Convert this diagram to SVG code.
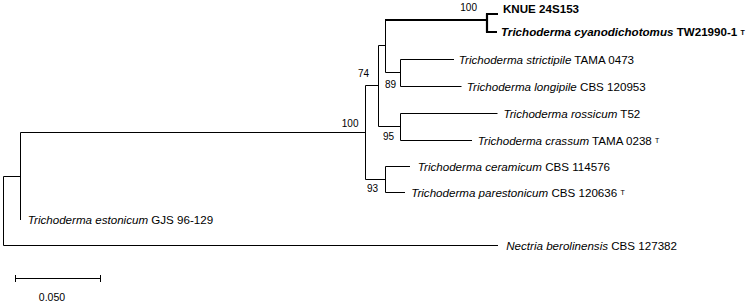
<svg xmlns="http://www.w3.org/2000/svg" width="750" height="304" viewBox="0 0 750 304">
<style>
.br{fill:none;stroke:#000;stroke-width:1}
.bold{fill:none;stroke:#000;stroke-width:2.2}
.tx{font-family:"Liberation Sans",Arial,sans-serif;font-size:11.6px;fill:#000}
.bs{font-family:"Liberation Sans",Arial,sans-serif;font-size:10px;fill:#000;text-anchor:end}
.sp{font-style:italic}
.sup{font-size:7px}
</style>
<rect width="750" height="304" fill="#fff"/>
<g id="connectors">
<path class="br" d="M3.5,176.5V245.5M3.5,176.5H20.5M3.5,245.5H498"/>
<path class="br" d="M20.5,132.5V220M20.5,132.5H365.5"/>
<path class="br" d="M365.5,85.5V179.5M365.5,85.5H378.5M365.5,179.5H385.5"/>
<path class="br" d="M378.5,45.5V126.5M378.5,45.5H385.5M378.5,126.5H400.5"/>
<path class="br" d="M385.5,20V72.5M385.5,72.5H400.5"/>
<path class="bold" d="M385,20H487M487,13.5V32.5M486,14H498M486,32H497"/>
<path class="br" d="M400.5,59.5V86.5M400.5,59.5H454M400.5,86.5H461.5"/>
<path class="br" d="M400.5,113.5V140.5M400.5,113.5H497.5M400.5,140.5H472"/>
<path class="br" d="M385.5,166.5V192.5M385.5,166.5H410M385.5,192.5H405"/>
</g>
<g id="n-knue"><text class="tx" x="503" y="12.5" font-weight="bold">KNUE 24S153</text></g>
<g id="n-cyano"><text class="tx" x="501" y="36.2" font-weight="bold"><tspan class="sp">Trichoderma cyanodichotomus</tspan> TW21990-1 <tspan class="sup" dy="-1.5">T</tspan></text></g>
<g id="n-strictipile"><text class="tx" x="458.8" y="63.6"><tspan class="sp">Trichoderma strictipile</tspan> TAMA 0473</text></g>
<g id="n-longipile"><text class="tx" x="466.8" y="90.6"><tspan class="sp">Trichoderma longipile</tspan> CBS 120953</text></g>
<g id="n-rossicum"><text class="tx" x="503.5" y="117.6"><tspan class="sp">Trichoderma rossicum</tspan> T52</text></g>
<g id="n-crassum"><text class="tx" x="477.8" y="144.6"><tspan class="sp">Trichoderma crassum</tspan> TAMA 0238 <tspan class="sup" dy="-1.5">T</tspan></text></g>
<g id="n-ceramicum"><text class="tx" x="417.8" y="170.6"><tspan class="sp">Trichoderma ceramicum</tspan> CBS 114576</text></g>
<g id="n-parestonicum"><text class="tx" x="411.2" y="196.6"><tspan class="sp">Trichoderma parestonicum</tspan> CBS 120636 <tspan class="sup" dy="-1.5">T</tspan></text></g>
<g id="n-estonicum"><text class="tx" x="27.8" y="224.1"><tspan class="sp">Trichoderma estonicum</tspan> GJS 96-129</text></g>
<g id="n-nectria"><text class="tx" x="506.2" y="249.6"><tspan class="sp">Nectria berolinensis</tspan> CBS 127382</text></g>
<g id="bootstrap">
<text class="bs" x="477" y="10.5">100</text>
<text class="bs" x="358.5" y="127">100</text>
<text class="bs" x="369" y="77">74</text>
<text class="bs" x="396" y="87.5">89</text>
<text class="bs" x="394" y="139.5">95</text>
<text class="bs" x="378" y="192">93</text>
</g>
<g id="scale">
<path class="br" d="M15.5,278.5H100.5M15.5,275V282M100.5,275V282"/>
<text class="tx" x="52" y="301" text-anchor="middle" style="font-size:10.5px">0.050</text>
</g>
</svg>
